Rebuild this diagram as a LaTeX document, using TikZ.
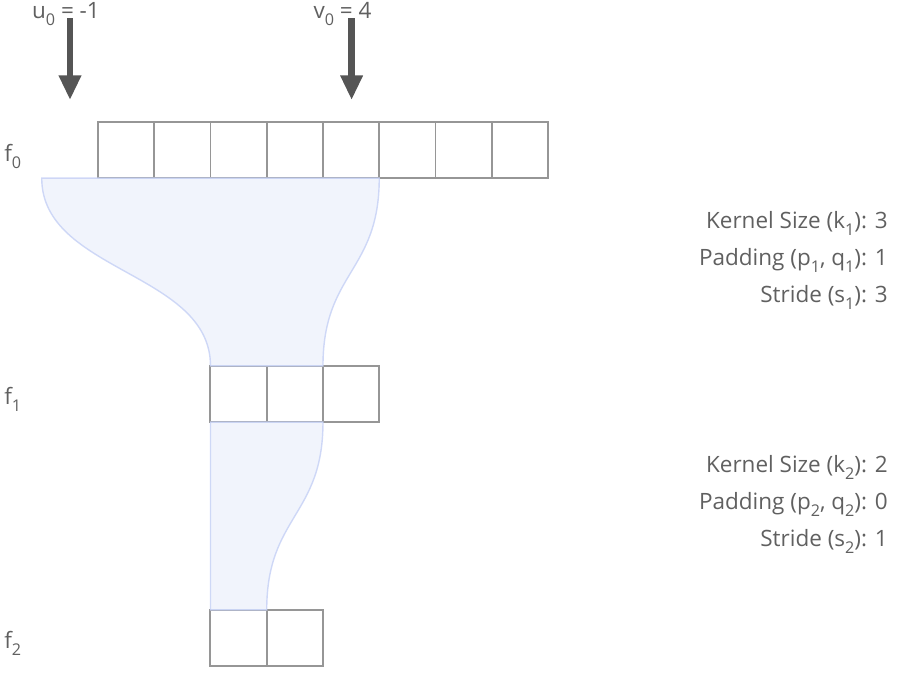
\documentclass[tikz,border=0pt]{standalone}
\usepackage{fontspec}
\setmainfont{Open Sans}
\usetikzlibrary{arrows.meta, positioning, calc}
\definecolor{textgray}{RGB}{96, 96, 96}
\definecolor{cellgray}{RGB}{150, 150, 150}
\definecolor{arrowgray}{RGB}{85, 85, 85}
\definecolor{funnelfill}{RGB}{238, 242, 252}
\definecolor{funneledge}{RGB}{197, 208, 245}
\newcommand{\idx}[1]{\raisebox{-5.5pt}{\fontsize{11.5pt}{11.5pt}\selectfont #1}}
\tikzstyle{cell} = [rectangle, draw=cellgray, line width=1.4pt, minimum size=1.406cm, inner sep=0pt, outer sep=0pt]
\tikzstyle{layer} = [text=textgray, font=\fontsize{16pt}{19pt}\selectfont, inner sep=0pt]
\tikzstyle{param} = [text=textgray, font=\fontsize{16pt}{19pt}\selectfont, inner sep=0pt, anchor=base east]
\tikzstyle{pointer} = [line width=4.5pt, draw=arrowgray, -{Triangle[width=15pt, length=17.5pt]}]
\tikzstyle{funnel} = [fill=funnelfill, draw=funneledge, line width=1pt, fill opacity=0.85, draw opacity=0.8]

\begin{document}
\begin{tikzpicture}[x=0.025cm, y=-0.025cm]
\useasboundingbox (0,0) rectangle (898,672);

% Layer f0
\node (f0a) [cell] at (126.1,150) {};
\node (f0b) [cell, right=0pt of f0a] {};
\node (f0c) [cell, right=0pt of f0b] {};
\node (f0d) [cell, right=0pt of f0c] {};
\node (f0e) [cell, right=0pt of f0d] {};
\node (f0f) [cell, right=0pt of f0e] {};
\node (f0g) [cell, right=0pt of f0f] {};
\node (f0h) [cell, right=0pt of f0g] {};

% Layer f1
\node (f1a) [cell] at (238.6,394) {};
\node (f1b) [cell, right=0pt of f1a] {};
\node (f1c) [cell, right=0pt of f1b] {};

% Layer f2
\node (f2a) [cell] at (238.6,638) {};
\node (f2b) [cell, right=0pt of f2a] {};

% Layer names
\node (f0lab) [layer, anchor=base west] at (4,161) {f\idx{0}};
\node (f1lab) [layer, anchor=base west] at (4,404) {f\idx{1}};
\node (f2lab) [layer, anchor=base west] at (4,648) {f\idx{2}};

% Receptive field of f2a
\coordinate (u0pad) at ($(f0a.south west)+(-56.25,0)$);
\draw [funnel] (u0pad) .. controls +(0,94) and +(0,-94) .. (f1a.north west)
  -- (f1b.north east) .. controls +(0,-94) and +(0,94) .. (f0e.south east) -- cycle;
\draw [funnel] (f1a.south west) -- (f2a.north west) -- (f2a.north east)
  .. controls +(0,-94) and +(0,94) .. (f1b.south east) -- cycle;

% Start and end indices
\node (u0lab) [layer, anchor=base] at (66,18) {u\idx{0} = -1};
\node (v0lab) [layer, anchor=base] at (342.5,18) {v\idx{0} = 4};
\coordinate (u0tip) at (70,100);
\coordinate (v0tip) at (351.6,100);
\draw [pointer] (u0lab.base -| u0tip) -- (u0tip);
\draw [pointer] (v0lab.base -| v0tip) -- (v0tip);

% Layer parameters
\node (k1) [param] at (888,228) {Kernel Size (k\idx{1}): 3};
\node (p1) [param] at (888,265) {Padding (p\idx{1}, q\idx{1}): 1};
\node (s1) [param] at (888,302) {Stride (s\idx{1}): 3};
\node (k2) [param] at (888,472) {Kernel Size (k\idx{2}): 2};
\node (p2) [param] at (888,509) {Padding (p\idx{2}, q\idx{2}): 0};
\node (s2) [param] at (888,546) {Stride (s\idx{2}): 1};

\end{tikzpicture}
\end{document}
